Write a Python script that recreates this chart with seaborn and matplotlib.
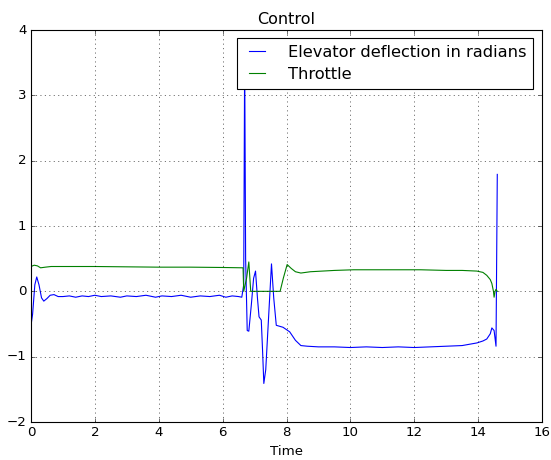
import matplotlib
matplotlib.use("Agg")
import matplotlib.pyplot as plt
import seaborn as sns
import pandas as pd

plt.style.use("classic")
plt.rcParams["figure.facecolor"] = "white"
plt.rcParams["savefig.facecolor"] = "white"
plt.rcParams["font.family"] = ["DejaVu Sans"]

title = "Control"
xlabel = "Time"
elev_label = "Elevator deflection in radians"
thr_label = "Throttle"

elev_t = [0.0, 0.05, 0.12, 0.18, 0.25, 0.33, 0.4, 0.5, 0.6, 0.72, 0.85, 1.0, 1.2, 1.4,
          1.6, 1.8, 2.0, 2.2, 2.5, 2.8, 3.0, 3.3, 3.6, 3.9, 4.1, 4.4, 4.7, 5.0, 5.3,
          5.6, 5.9, 6.1, 6.3, 6.5, 6.6, 6.66, 6.69, 6.72, 6.77, 6.82, 6.9, 6.97, 7.03,
          7.09, 7.14, 7.21, 7.25, 7.29, 7.35, 7.45, 7.53, 7.6, 7.68, 7.89, 8.1, 8.28,
          8.45, 8.65, 9.0, 9.5, 10.0, 10.5, 11.0, 11.5, 12.0, 12.5, 13.0, 13.5, 13.96,
          14.15, 14.27, 14.38, 14.43, 14.5, 14.56, 14.6]
elev_v = [-0.52, -0.35, 0.10, 0.22, 0.10, -0.10, -0.15, -0.11, -0.06, -0.05, -0.08,
          -0.08, -0.07, -0.09, -0.07, -0.08, -0.06, -0.08, -0.07, -0.09, -0.07, -0.08,
          -0.06, -0.09, -0.07, -0.08, -0.06, -0.09, -0.07, -0.08, -0.06, -0.09, -0.07,
          -0.08, -0.09, 0.10, 3.60, 0.50, -0.60, -0.61, -0.20, 0.20, 0.31,
          -0.10, -0.39, -0.44, -0.90, -1.41, -1.20, -0.30, 0.42, -0.10, -0.52, -0.55,
          -0.62, -0.75, -0.83, -0.84, -0.85, -0.85, -0.86, -0.85, -0.86, -0.85, -0.86,
          -0.85, -0.84, -0.83, -0.79, -0.76, -0.73, -0.65, -0.56, -0.60, -0.84, 1.79]

thr_t = [0.0, 0.1, 0.2, 0.3, 0.45, 0.63, 1.0, 2.0, 3.0, 4.0, 5.0, 6.0, 6.64, 6.66,
         6.75, 6.82, 6.88, 7.0, 7.8, 7.9, 8.02, 8.15, 8.28, 8.45, 8.75, 9.5, 10.1,
         11.0, 12.2, 13.0, 13.5, 13.96, 14.15, 14.27, 14.38, 14.43, 14.48, 14.5,
         14.53, 14.56, 14.6]
thr_v = [0.38, 0.40, 0.39, 0.36, 0.37, 0.38, 0.38, 0.38, 0.375, 0.37, 0.37, 0.365,
         0.36, 0.0, 0.2, 0.45, 0.0, 0.0, 0.0, 0.2, 0.41, 0.35, 0.30, 0.28, 0.30,
         0.32, 0.33, 0.33, 0.33, 0.32, 0.32, 0.31, 0.29, 0.245, 0.18, 0.12, 0.0,
         -0.09, 0.0, 0.03, 0.0]

df_e = pd.DataFrame({"t": elev_t, "v": elev_v})
df_g = pd.DataFrame({"t": thr_t, "v": thr_v})

fig = plt.figure(figsize=(551 / 80, 460 / 80), dpi=80)
ax = fig.add_axes([31 / 551, 38 / 460, 511 / 551, 392 / 460])

sns.lineplot(data=df_e, x="t", y="v", ax=ax, color="b", linewidth=1.0,
             estimator=None, sort=False, label=elev_label)
sns.lineplot(data=df_g, x="t", y="v", ax=ax, color="g", linewidth=1.0,
             estimator=None, sort=False, label=thr_label)

ax.set_xlim(0, 16)
ax.set_ylim(-2, 4)
ax.set_xticks(range(0, 17, 2))
ax.set_yticks(range(-2, 5))
ax.grid(True, linestyle=":", color="k", linewidth=0.5)
ax.set_title(title, fontsize=14.4)
ax.set_xlabel(xlabel, fontsize=12)
ax.set_ylabel("")
ax.legend(loc="upper right", bbox_to_anchor=(0.9818, 0.979), borderaxespad=0,
          fancybox=False, fontsize=14.6, handlelength=1.6, handletextpad=1.1,
          borderpad=0.4, labelspacing=0.45)

fig.savefig("out.png", dpi=80)
